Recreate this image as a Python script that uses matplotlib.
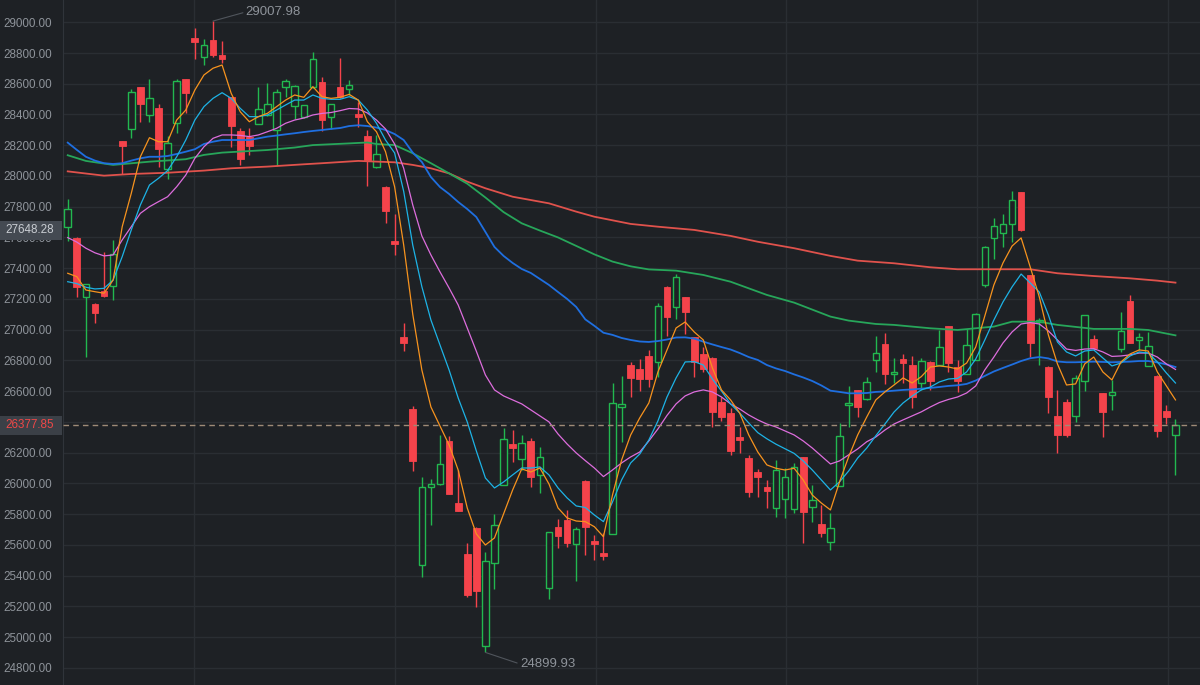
import numpy as np
import matplotlib
matplotlib.use("Agg")
import matplotlib.pyplot as plt
from matplotlib import transforms
from matplotlib.patches import Rectangle

# candle data (open, high, low, close)
opens = [27670, 27599, 27215, 27167, 27252, 27286, 28226, 28304, 28577, 28397,
         28444, 28043, 28347, 28629, 28900, 28776, 28887, 28785, 28512, 28293,
         28252, 28338, 28395, 28299, 28581, 28455, 28386, 28581, 28611, 28386,
         28577, 28564, 28403, 28260, 28057, 27930, 27577, 26950, 26484, 25471,
         25979, 25994, 26276, 25870, 25539, 25712, 24942, 25480, 25990, 26254,
         26157, 26276, 26055, 25321, 25714, 25762, 25604, 26017, 25625, 25545,
         25671, 26499, 26770, 26742, 26831, 26792, 27280, 27150, 27210, 26950,
         26840, 26818, 26528, 26456, 26300, 26163, 26074, 25977, 25838, 25899,
         25831, 26172, 25845, 25736, 25621, 25983, 26508, 26608, 26547, 26803,
         26907, 26710, 26811, 26770, 26651, 26792, 26770, 27024, 26759, 26712,
         26803, 27291, 27595, 27631, 27688, 27894, 27356, 27048, 26759, 26440,
         26532, 26439, 26666, 26937, 26586, 26575, 26874, 27187, 26933, 26764,
         26701, 26473, 26313]
highs = [27852, 27600, 27300, 27175, 27504, 27584, 28230, 28564, 28580, 28631,
         28466, 28260, 28630, 28632, 28961, 28889, 29007.98, 28880, 28515, 28310,
         28312, 28577, 28602, 28564, 28631, 28590, 28462, 28805, 28646, 28470,
         28766, 28624, 28483, 28299, 28267, 27935, 27753, 27042, 26503, 26044,
         26029, 26315, 26308, 26087, 25610, 25715, 25556, 25799, 26358, 26347,
         26315, 26293, 26239, 25682, 25766, 25827, 25718, 26020, 25662, 25675,
         26655, 26699, 26792, 26807, 26868, 27172, 27282, 27363, 27212, 26952,
         26889, 26820, 26564, 26489, 26369, 26185, 26094, 26022, 26152, 26098,
         26131, 26174, 25990, 25860, 25809, 26391, 26634, 26610, 26694, 26959,
         26980, 26818, 26840, 26829, 26814, 26795, 26998, 27026, 26803, 27003,
         27110, 27545, 27729, 27751, 27904, 27896, 27358, 27074, 26761, 26608,
         26547, 26705, 27094, 26966, 26588, 26673, 27113, 27226, 26976, 26987,
         26703, 26510, 26417]
lows = [27575, 27215, 26820, 27045, 27215, 27193, 28013, 28249, 28351, 28349,
        28060, 27978, 28282, 28408, 28759, 28720, 28772, 28733, 28190, 28073,
        28137, 28338, 28390, 28067, 28516, 28371, 28380, 28575, 28295, 28304,
        28510, 28527, 28321, 27935, 28055, 27696, 27486, 26863, 26083, 25393,
        25729, 25990, 25928, 25818, 25263, 25198, 24899.93, 25313, 25988, 26137,
        26087, 25978, 25936, 25246, 25578, 25588, 25367, 25534, 25502, 25500,
        25668, 26271, 26560, 26603, 26629, 26694, 26959, 27068, 26972, 26690,
        26726, 26369, 26408, 26185, 26200, 25914, 25914, 25838, 25783, 25773,
        25805, 25610, 25751, 25649, 25567, 25980, 26369, 26430, 26545, 26727,
        26645, 26651, 26651, 26489, 26608, 26608, 26768, 26727, 26597, 26710,
        26800, 27278, 27458, 27540, 27572, 27640, 26824, 26770, 26456, 26200,
        26300, 26401, 26603, 26870, 26300, 26477, 26857, 26913, 26868, 26762,
        26304, 26386, 26055]
closes = [27783, 27276, 27295, 27111, 27221, 27492, 28195, 28546, 28468, 28505,
          28178, 28217, 28616, 28538, 28870, 28850, 28785, 28763, 28325, 28109,
          28197, 28434, 28466, 28546, 28618, 28587, 28460, 28761, 28364, 28466,
          28512, 28590, 28386, 28104, 28143, 27773, 27559, 26911, 26148, 25979,
          25998, 26124, 25931, 25822, 25274, 25300, 25495, 25729, 26287, 26228,
          26265, 26043, 26174, 25682, 25658, 25610, 25701, 25718, 25608, 25528,
          26521, 26514, 26684, 26677, 26677, 27156, 27085, 27345, 27117, 26792,
          26742, 26463, 26430, 26213, 26282, 25942, 26040, 25951, 26085, 26040,
          26109, 25816, 25892, 25679, 25708, 26308, 26521, 26495, 26658, 26846,
          26712, 26723, 26781, 26560, 26796, 26668, 26889, 26781, 26668, 26900,
          27102, 27540, 27677, 27686, 27844, 27648.28, 26915, 27063, 26564, 26315,
          26315, 26684, 27094, 26883, 26462, 26593, 26991, 26915, 26950, 26894,
          26341, 26434, 26377.85]

# moving average lines
ma5 = [27367, 27345, 27258, 27247, 27237, 27323, 27670, 27887, 28125, 28249,
       28223, 28223, 28364, 28429, 28559, 28657, 28701, 28722, 28538, 28418,
       28353, 28386, 28408, 28451, 28494, 28527, 28512, 28581, 28516, 28505,
       28512, 28531, 28494, 28353, 28288, 28158, 27930, 27551, 27100, 26738,
       26497, 26373, 26250, 26087, 25840, 25671, 25599, 25645, 25801, 25957,
       26094, 26074, 26100, 25996, 25840, 25775, 25755, 25751, 25718, 25653,
       25925, 26152, 26315, 26426, 26523, 26725, 26868, 27011, 27050, 26985,
       26933, 26751, 26608, 26543, 26458, 26315, 26204, 26120, 26098, 26087,
       26098, 26022, 25924, 25872, 25827, 26009, 26172, 26315, 26432, 26543,
       26595, 26640, 26686, 26653, 26694, 26757, 26764, 26757, 26744, 26783,
       26887, 27089, 27291, 27434, 27544, 27597, 27408, 27213, 26966, 26777,
       26640, 26647, 26777, 26822, 26725, 26673, 26790, 26842, 26868, 26861,
       26725, 26634, 26543]
ma10 = [27312, 27300, 27276, 27265, 27269, 27323, 27475, 27649, 27811, 27941,
        27985, 28035, 28125, 28234, 28364, 28451, 28505, 28542, 28505, 28440,
        28386, 28386, 28397, 28429, 28462, 28494, 28494, 28527, 28505, 28499,
        28499, 28516, 28494, 28429, 28343, 28234, 28150, 27900, 27550, 27280,
        27063, 26900, 26738, 26556, 26400, 26211, 26035, 25970, 26009, 26055,
        26100, 26100, 26107, 26055, 25970, 25905, 25853, 25843, 25794, 25751,
        25879, 26022, 26133, 26191, 26282, 26406, 26562, 26686, 26790, 26792,
        26770, 26679, 26601, 26517, 26458, 26393, 26330, 26290, 26255, 26225,
        26195, 26146, 26087, 26022, 25957, 26010, 26080, 26165, 26230, 26310,
        26386, 26464, 26523, 26568, 26608, 26627, 26660, 26679, 26683, 26725,
        26809, 26933, 27063, 27180, 27278, 27362, 27304, 27245, 27096, 26920,
        26855, 26829, 26861, 26868, 26816, 26764, 26783, 26829, 26855, 26848,
        26790, 26718, 26653]
ma20 = [27599, 27570, 27530, 27500, 27480, 27486, 27584, 27670, 27757, 27800,
        27833, 27865, 27930, 28006, 28115, 28190, 28245, 28267, 28267, 28264,
        28256, 28267, 28288, 28310, 28343, 28364, 28377, 28397, 28407, 28413,
        28425, 28439, 28436, 28410, 28364, 28306, 28208, 28050, 27811, 27610,
        27486, 27376, 27271, 27161, 27011, 26860, 26705, 26608, 26569, 26543,
        26517, 26478, 26439, 26400, 26321, 26256, 26198, 26148, 26100, 26044,
        26087, 26133, 26172, 26204, 26276, 26354, 26442, 26517, 26569, 26595,
        26608, 26595, 26562, 26517, 26484, 26445, 26413, 26386, 26367, 26341,
        26315, 26276, 26230, 26178, 26126, 26146, 26185, 26224, 26271, 26302,
        26347, 26386, 26413, 26439, 26465, 26497, 26526, 26546, 26562, 26588,
        26634, 26738, 26822, 26913, 26985, 27037, 27046, 27037, 26992, 26933,
        26874, 26865, 26874, 26876, 26855, 26826, 26829, 26836, 26848, 26848,
        26822, 26777, 26741]
ma30 = [28217, 28170, 28125, 28100, 28083, 28078, 28083, 28100, 28115, 28125,
        28125, 28130, 28143, 28158, 28174, 28208, 28223, 28234, 28234, 28234,
        28234, 28245, 28256, 28263, 28271, 28278, 28286, 28293, 28299, 28306,
        28312, 28325, 28330, 28325, 28315, 28299, 28273, 28234, 28152, 28091,
        27993, 27928, 27883, 27831, 27785, 27733, 27636, 27538, 27480, 27434,
        27395, 27369, 27330, 27291, 27245, 27200, 27148, 27067, 27025, 26980,
        26966, 26946, 26933, 26923, 26920, 26926, 26936, 26949, 26950, 26942,
        26922, 26904, 26887, 26871, 26848, 26822, 26803, 26770, 26748, 26731,
        26709, 26689, 26666, 26637, 26603, 26595, 26586, 26586, 26588, 26595,
        26598, 26603, 26608, 26611, 26616, 26621, 26627, 26634, 26638, 26647,
        26669, 26699, 26728, 26751, 26773, 26796, 26814, 26822, 26813, 26793,
        26788, 26788, 26790, 26792, 26790, 26788, 26790, 26792, 26796, 26796,
        26787, 26774, 26757]
ma60_idx = [0, 2, 5, 9, 13, 15, 17, 22, 25, 27, 31, 33, 34, 36, 38, 40, 42, 44,
            46, 48, 50, 52, 54, 56, 58, 60, 62, 64, 67, 70, 73, 77, 80, 84, 86,
            89, 91, 95, 98, 102, 104, 107, 109, 113, 117, 119, 122]
ma60 = [28135, 28098, 28072, 28093, 28109, 28137, 28152, 28169, 28185, 28201,
        28212, 28218, 28208, 28201, 28148, 28083, 28017, 27950, 27860, 27765,
        27692, 27645, 27600, 27545, 27490, 27443, 27412, 27392, 27384, 27356,
        27312, 27226, 27176, 27085, 27059, 27037, 27031, 27009, 26998, 27020,
        27052, 27052, 27031, 27005, 27005, 26998, 26963]
ma120_idx = [0, 4, 7, 11, 15, 18, 22, 26, 28, 32, 36, 38, 40, 42, 44, 46, 49, 53,
             56, 58, 62, 65, 69, 73, 76, 80, 84, 87, 91, 95, 98, 102, 106, 109,
             113, 117, 120, 122]
ma120 = [28030, 28002, 28013, 28021, 28035, 28050, 28061, 28076, 28083, 28098,
         28089, 28072, 28050, 28017, 27963, 27920, 27865, 27822, 27768, 27735,
         27688, 27670, 27649, 27610, 27572, 27530, 27480, 27449, 27432, 27406,
         27393, 27393, 27393, 27367, 27349, 27334, 27319, 27306]

last_price = 26377.85
cursor_price = 27648.28
price_ticks = list(range(24800, 29001, 200))
vgrid = [13.9, 36.0, 58.2, 79.1, 100.1, 121.2]

bg = '#1e2125'
up_col = '#22b84f'
down_col = '#f5434b'
grid_col = '#2a2e33'
text_col = '#8e939a'

fig = plt.figure(figsize=(12, 6.85), dpi=100, facecolor=bg)
ax = fig.add_axes([63 / 1200, 0, 1 - 63 / 1200, 1])
ax.set_facecolor(bg)

x = np.arange(len(opens))
o = np.array(opens)
c = np.array(closes)
up = c >= o

# wicks
ax.vlines(x[up], np.array(lows)[up], np.array(highs)[up], color=up_col, lw=1, zorder=2)
ax.vlines(x[~up], np.array(lows)[~up], np.array(highs)[~up], color=down_col, lw=1, zorder=2)

# bodies
body_h = np.maximum(np.abs(c - o), 10)
body_b = np.minimum(o, c)
ax.bar(x[up], body_h[up], bottom=body_b[up], width=0.72, facecolor=bg,
       edgecolor=up_col, linewidth=1.0, zorder=3)
ax.bar(x[~up], body_h[~up], bottom=body_b[~up], width=0.74, facecolor=down_col,
       edgecolor=down_col, linewidth=0.6, zorder=3)

# moving averages
ax.plot(ma120_idx, ma120, color='#e0524c', lw=1.3, zorder=4)
ax.plot(ma60_idx, ma60, color='#27a65a', lw=1.3, zorder=4)
ax.plot(x, ma30, color='#1f6fe0', lw=1.3, zorder=4)
ax.plot(x, ma20, color='#dd6ddd', lw=0.9, zorder=4)
ax.plot(x, ma10, color='#1db3e6', lw=0.9, zorder=4)
ax.plot(x, ma5, color='#f7931e', lw=0.9, zorder=4)

# last price line
ax.axhline(last_price, color='#9e8b77', lw=1, ls=(0, (4, 3)), zorder=5)

ax.set_xlim(-0.52, 124.7)
ax.set_ylim(24688, 29145)

ax.set_yticks(price_ticks)
ax.set_yticklabels([f'{v:.2f}' for v in price_ticks])
ax.set_xticks(vgrid)
ax.set_xticklabels([])
ax.tick_params(axis='both', length=0, colors=text_col)
ax.tick_params(axis='y', pad=8, labelsize=8.4)
for lab in ax.get_yticklabels():
    lab.set_family(['Liberation Sans', 'DejaVu Sans'])
ax.grid(True, color=grid_col, lw=1, zorder=0)
ax.set_axisbelow(True)
for side in ['top', 'right', 'bottom']:
    ax.spines[side].set_visible(False)
ax.spines['left'].set_color('#30343a')

# price tags on the axis
blend = transforms.blended_transform_factory(fig.transFigure, ax.transData)
for price, box_col, txt_col in [(cursor_price, '#444a52', '#c9cdd2'),
                                 (last_price, '#3b4047', '#f04848')]:
    ax.add_patch(Rectangle((0, price - 62), 62 / 1200, 124, transform=blend,
                           facecolor=box_col, edgecolor='none', clip_on=False, zorder=6))
    ax.text(5 / 1200, price, f'{price:.2f}', transform=blend, ha='left', va='center',
            color=txt_col, fontsize=8.4, family=['Liberation Sans', 'DejaVu Sans'],
            zorder=7, clip_on=False)

# extreme price callouts
hi_i = int(np.argmax(highs))
lo_i = int(np.argmin(lows))
ax.annotate(f'{highs[hi_i]:.2f}', xy=(hi_i, highs[hi_i]), xytext=(19.6, 29067),
            ha='left', va='center', color=text_col, fontsize=9.5,
            family=['Liberation Sans', 'DejaVu Sans'],
            arrowprops=dict(arrowstyle='-', color='#50555c', lw=0.8,
                            shrinkA=0, shrinkB=0, relpos=(0, 0.5)))
ax.annotate(f'{lows[lo_i]:.2f}', xy=(lo_i, lows[lo_i]), xytext=(49.8, 24825),
            ha='left', va='center', color=text_col, fontsize=9.5,
            family=['Liberation Sans', 'DejaVu Sans'],
            arrowprops=dict(arrowstyle='-', color='#50555c', lw=0.8,
                            shrinkA=0, shrinkB=0, relpos=(0, 0.5)))

fig.savefig('out.png', dpi=100, facecolor=bg)
